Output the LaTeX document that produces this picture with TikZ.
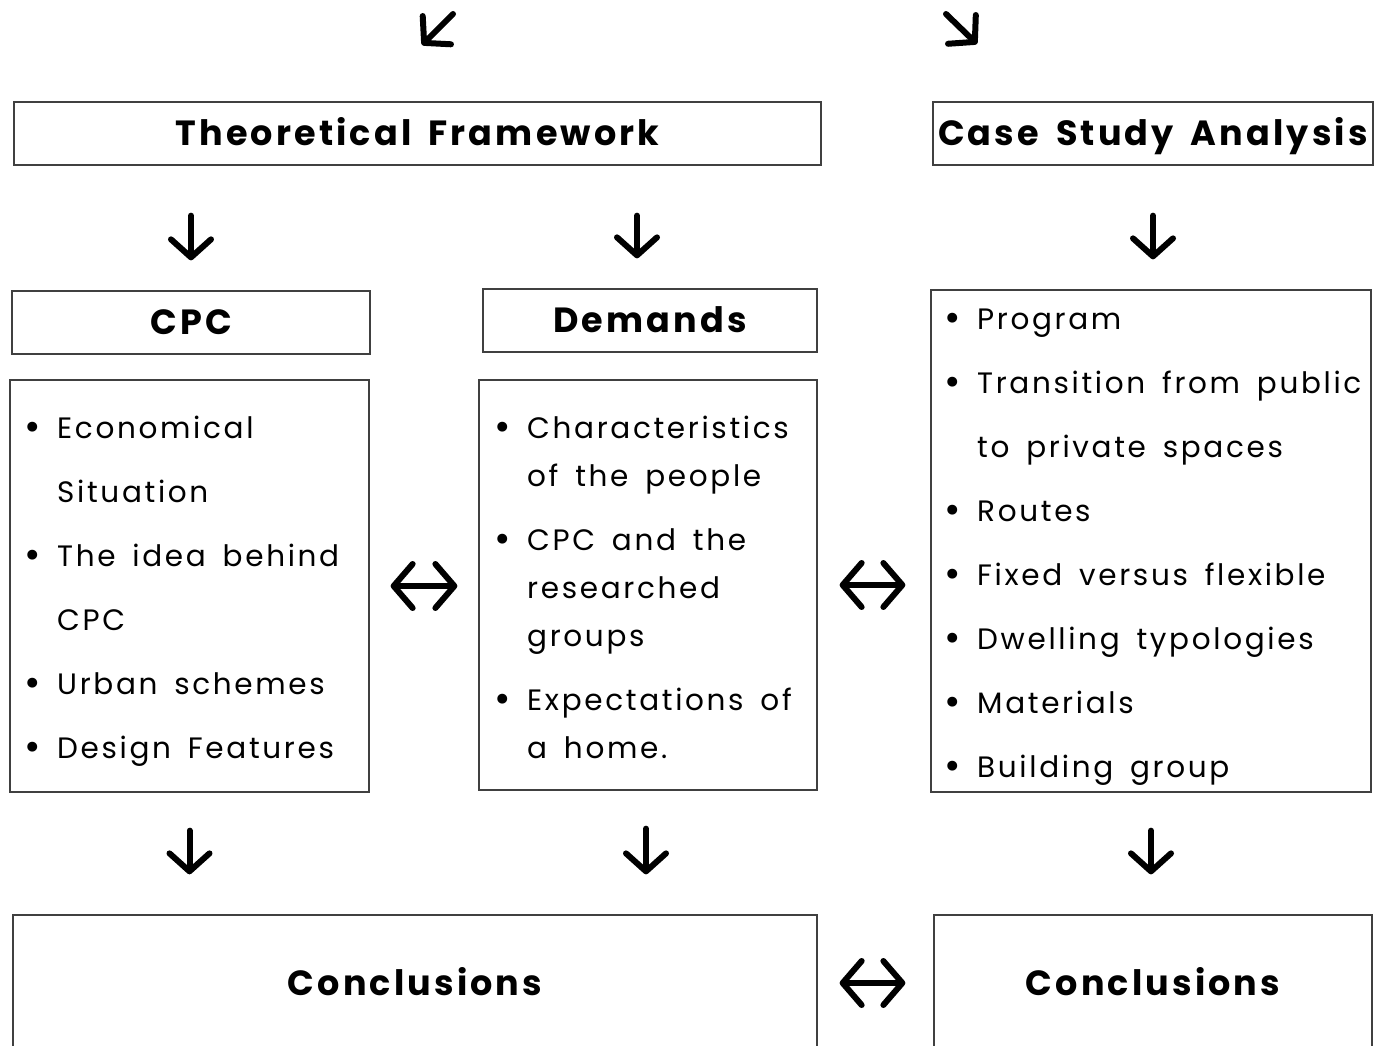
\documentclass[tikz,border=0pt]{standalone}
\usepackage{fontspec}
\setmainfont{Poppins}
\newfontfamily\listfont{Poppins}[LetterSpace=9]
\newfontfamily\headfont{Poppins}[LetterSpace=9,WordSpace=1.6]
\usetikzlibrary{arrows.meta,positioning}
\newcommand\itm{\rule{0pt}{30pt}\makebox[24pt][l]{\makebox[0pt][c]{\raisebox{-2pt}{\fontsize{40}{40}\selectfont\textbullet}}}}
\newcommand\cnt{\rule{0pt}{30pt}\hspace*{24pt}}

\begin{document}
\begin{tikzpicture}[x=1pt,y=-1pt,
        box/.style={draw=black!75,line width=1.3pt,inner sep=0pt},
        head node/.style={box,font=\headfont\bfseries\fontsize{35}{40}\selectfont,text height=24.5pt,text depth=0pt},
        list node/.style={anchor=north west,align=left,inner sep=0pt},
        down/.style={line width=6pt,line cap=round,-{Straight Barb[length=18pt,width=40pt,round]}},
        both/.style={line width=6pt,line cap=round,{Straight Barb[length=19pt,width=44pt,round]}-{Straight Barb[length=19pt,width=44pt,round]}}]
        \useasboundingbox (0,0) rectangle (1374,1046);
        \node[head node,minimum width=807pt,minimum height=63pt] (tf) at (417.5,133.5) {Theoretical Framework};
        \node[head node,minimum width=440pt,minimum height=63pt] (csa) at (1153,133.5) {Case Study Analysis};
        \node[head node,minimum width=358pt,minimum height=63pt] (cpc) at (191,322.5) {CPC};
        \node[head node,minimum width=334pt,minimum height=63pt] (dem) at (650,320.5) {Demands};
        \node[box,minimum width=359pt,minimum height=412pt] (cpclist) at (189.5,586) {};
        \node[box,minimum width=338pt,minimum height=410pt] (demlist) at (648,585) {};
        \node[box,minimum width=440pt,minimum height=502pt] (caselist) at (1151,541) {};
        \node[head node,minimum width=804pt,minimum height=136pt] (concl) at (415,983) {Conclusions};
        \node[head node,minimum width=438pt,minimum height=136pt] (concr) at (1153,983) {Conclusions};
        \node[list node,font=\listfont\fontsize{29.5}{64}\selectfont] (cpctext) at (33,408)
            {\itm Economical\\ \cnt Situation\\ \itm The idea behind\\ \cnt CPC\\ \itm Urban schemes\\ \itm Design Features};
        \node[list node,font=\listfont\fontsize{29.5}{48}\selectfont] (demtext) at (503,408)
            {\itm Characteristics\\ \cnt of the people\\[16pt] \itm CPC and the\\ \cnt researched\\ \cnt groups\\[16pt] \itm Expectations of\\ \cnt a home.};
        \node[list node,font=\listfont\fontsize{29.5}{64}\selectfont] (casetext) at (953,299)
            {\itm Program\\ \itm Transition from public\\ \cnt to private spaces\\ \itm Routes\\ \itm Fixed versus flexible\\ \itm Dwelling typologies\\ \itm Materials\\ \itm Building group};
        \coordinate (inl) at (453,14);
        \coordinate (outl) at (422,45);
        \coordinate (inr) at (946,14);
        \coordinate (outr) at (977,44);
        \draw[down] (inl) -- (outl);
        \draw[down] (inr) -- (outr);
        \draw[down,shorten <=50pt,shorten >=30pt] (cpc.north |- tf.south) -- (cpc.north);
        \draw[down,shorten <=50pt,shorten >=30pt] ([xshift=-13pt]dem.north |- tf.south) -- ([xshift=-13pt]dem.north);
        \draw[down,shorten <=50pt,shorten >=30pt] (csa.south) -- (csa.south |- caselist.north);
        \draw[down,shorten <=38pt,shorten >=40pt] (cpclist.south) -- (cpclist.south |- concl.north);
        \draw[down,shorten <=38pt,shorten >=40pt] ([xshift=-2pt]demlist.south) -- ([xshift=-2pt]demlist.south |- concl.north);
        \draw[down,shorten <=38pt,shorten >=40pt] (caselist.south) -- (caselist.south |- concr.north);
        \draw[both,shorten <=21pt,shorten >=21pt] (cpclist.east) -- (demlist.west |- cpclist.east);
        \draw[both,shorten <=22pt,shorten >=25pt] (demlist.east) -- (caselist.west |- demlist.east);
        \draw[both,shorten <=22pt,shorten >=28pt] (concl.east) -- (concr.west);
\end{tikzpicture}
\end{document}
